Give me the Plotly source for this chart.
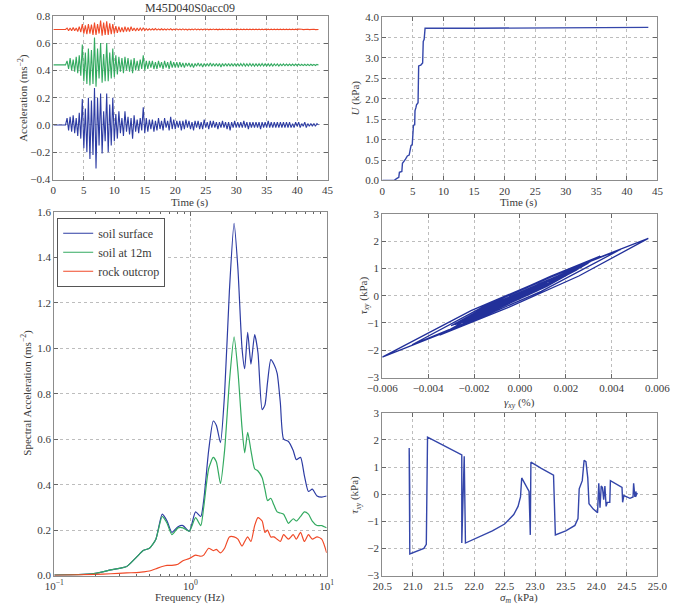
import numpy as np
import plotly.graph_objects as go

SERIF = "Liberation Serif"
TXT = "#3a3a3a"

# ---------------- data ----------------
title_text = "M45D040S0acc09"
dt_acc = 0.25
trace_names = ["soil surface", "soil at 12m", "rock outcrop"]
trace_offsets = [0.0, 0.44, 0.70]

acc_surface_early = [0, 0, 0, 0, 0, 0, 0, 0,
    0.0, 0.05, -0.04, 0.06, -0.05, 0.07, -0.06, 0.05, -0.08, 0.09, -0.10, 0.19,
    -0.17, 0.12, -0.20, 0.20, -0.25, 0.18, -0.22, 0.27, -0.32, 0.20, -0.15, 0.23,
    -0.21, 0.10, -0.12, 0.23, -0.20, 0.15, -0.15, 0.20, -0.12, 0.08, -0.10, 0.10,
    -0.06, 0.05, -0.08, 0.10, -0.05, 0.06, -0.07, 0.05, -0.10, 0.07, -0.05, 0.04,
    -0.06, 0.05, -0.04, 0.13, -0.06, 0.05, -0.05, 0.04]
acc_surface_late = [
    -0.03, 0.04, -0.05, 0.03, -0.04, 0.05, -0.03, 0.03, -0.04, 0.05,
    -0.02, 0.03, -0.04, 0.06, -0.03, 0.04, -0.03, 0.03, -0.02, 0.03,
    -0.04, 0.03, -0.03, 0.04, -0.02, 0.03, -0.03, 0.02, -0.04, 0.03,
    -0.02, 0.03, -0.03, 0.02, -0.03, 0.04, -0.02, 0.02, -0.03, 0.03,
    -0.02, 0.03, -0.02, 0.02, -0.03, 0.02, -0.02, 0.03, -0.02, 0.02,
    -0.03, 0.02, -0.04, 0.02, -0.02, 0.03, -0.02, 0.02, -0.02, 0.02,
    -0.02, 0.03, -0.02, 0.02, -0.03, 0.02, -0.02, 0.02, -0.02, 0.02,
    -0.02, 0.02, -0.03, 0.02, -0.02, 0.02, -0.02, 0.03, -0.02, 0.02,
    -0.02, 0.02, -0.02, 0.02, -0.02, 0.02, -0.02, 0.02, -0.02, 0.02,
    -0.02, 0.02, -0.02, 0.01, -0.02, 0.02, -0.01, 0.02, -0.02, 0.01,
    -0.01, 0.02, -0.02, 0.01, -0.01, 0.01, -0.01, 0.01, -0.01, 0.01, 0.0]

acc_12m_early = [0, 0, 0, 0, 0, 0, 0, 0,
    0.0, 0.03, -0.03, 0.05, -0.04, 0.04, -0.05, 0.06, -0.06, 0.07, -0.08, 0.15,
    -0.12, 0.09, -0.14, 0.12, -0.15, 0.11, -0.14, 0.20, -0.16, 0.12, -0.10, 0.16,
    -0.13, 0.08, -0.12, 0.16, -0.12, 0.09, -0.10, 0.12, -0.09, 0.07, -0.07, 0.06,
    -0.05, 0.05, -0.06, 0.06, -0.04, 0.05, -0.05, 0.04, -0.06, 0.05, -0.04, 0.03,
    -0.04, 0.04, -0.03, 0.07, -0.04, 0.03, -0.03, 0.03]
acc_12m_late = [
    -0.02, 0.03, -0.03, 0.02, -0.03, 0.03, -0.02, 0.02, -0.03, 0.03,
    -0.02, 0.02, -0.03, 0.03, -0.02, 0.02, -0.02, 0.02, -0.02, 0.02,
    -0.015, 0.015, -0.02, 0.015, -0.01, 0.015, -0.015, 0.01, -0.02, 0.01,
    -0.01, 0.015, -0.01, 0.01, -0.015, 0.01, -0.01, 0.01, -0.01, 0.015,
    -0.01, 0.01, -0.01, 0.01, -0.01, 0.01, -0.015, 0.01, -0.01, 0.01,
    -0.01, 0.01, -0.01, 0.01, -0.01, 0.01, -0.01, 0.01, -0.01, 0.01,
    -0.008, 0.01, -0.01, 0.008, -0.008, 0.01, -0.008, 0.008, -0.01, 0.008,
    -0.008, 0.008, -0.008, 0.01, -0.008, 0.008, -0.008, 0.008, -0.008, 0.008,
    -0.008, 0.008, -0.006, 0.008, -0.008, 0.006, -0.006, 0.008, -0.006, 0.006,
    -0.006, 0.006, -0.006, 0.006, -0.006, 0.006, -0.006, 0.006, -0.005, 0.005,
    -0.005, 0.005, -0.005, 0.005, -0.005, 0.005, -0.004, 0.004, -0.004, 0.004, 0.0]

acc_rock_early = [0, 0, 0, 0, 0, 0, 0, 0,
    0.0, 0.01, -0.01, 0.01, -0.01, 0.015, -0.01, 0.01, -0.015, 0.02, -0.02, 0.04,
    -0.03, 0.03, -0.035, 0.04, -0.03, 0.035, -0.04, 0.05, -0.04, 0.04, -0.03, 0.065,
    -0.045, 0.05, -0.04, 0.06, -0.04, 0.045, -0.035, 0.04, -0.03, 0.025, -0.025, 0.02,
    -0.02, 0.015, -0.02, 0.02, -0.015, 0.015, -0.015, 0.02, -0.01, 0.01, -0.012, 0.01,
    -0.01, 0.01, -0.008, 0.012, -0.008, 0.006, -0.006, 0.005]
acc_rock_late = [
    -0.005, 0.005, -0.004, 0.006, -0.005, 0.004, -0.004, 0.005, -0.004, 0.004,
    -0.004, 0.004, -0.003, 0.005, -0.004, 0.003, -0.003, 0.004, -0.003, 0.003,
    -0.003, 0.004, -0.003, 0.003, -0.004, 0.003, -0.003, 0.003, -0.003, 0.004,
    -0.003, 0.003, -0.003, 0.003, -0.003, 0.003, -0.002, 0.003, -0.003, 0.002,
    -0.002, 0.003, -0.002, 0.002, -0.003, 0.002, -0.002, 0.002, -0.002, 0.003,
    -0.002, 0.002, -0.002, 0.002, -0.002, 0.002, -0.002, 0.002, -0.002, 0.002,
    -0.002, 0.002, -0.002, 0.002, -0.002, 0.002, -0.002, 0.002, -0.002, 0.002,
    -0.002, 0.002, -0.002, 0.002, -0.002, 0.002, -0.002, 0.002, -0.002, 0.002,
    -0.002, 0.002, -0.002, 0.002, -0.002, 0.002, -0.002, 0.002, -0.002, 0.002,
    -0.002, 0.002, -0.002, 0.002, -0.002, 0.002, -0.001, 0.002, -0.001, 0.001,
    -0.001, 0.001, -0.001, 0.001, -0.001, 0.001, -0.001, 0.001, -0.001, 0.001, 0.0]

# excess pore pressure U (kPa) vs time (s)
u_time = [0, 1.6, 2.0, 2.4, 2.7, 2.8, 3.2, 3.3, 3.6, 3.8, 4.1, 4.4, 4.6, 4.7, 4.9,
          5.0, 5.1, 5.3, 5.35, 5.5, 5.6, 5.85, 5.95, 6.3, 6.6, 6.7, 6.85, 7.0, 15.0, 43.5]
u_kpa = [0.0, 0.0, 0.01, 0.05, 0.08, 0.2, 0.22, 0.42, 0.47, 0.52, 0.6, 0.62, 0.78, 0.85, 0.88,
         1.3, 1.35, 1.36, 1.7, 1.78, 1.85, 1.9, 2.8, 2.82, 2.87, 3.4, 3.45, 3.72, 3.72, 3.74]

# response spectra
freq_hz = [0.10, 0.15, 0.20, 0.26, 0.34, 0.40, 0.45, 0.50, 0.557, 0.62, 0.673, 0.73, 0.81,
           0.88, 0.98, 1.09, 1.19, 1.25, 1.36, 1.47, 1.55, 1.66, 1.78, 1.93, 2.09, 2.23,
           2.39, 2.50, 2.63, 2.78, 2.96, 3.13, 3.36, 3.52, 3.68, 3.89, 4.10, 4.33, 4.57,
           4.83, 5.24, 5.68, 5.99, 6.43, 6.86, 7.35, 7.84, 8.50, 9.20, 10.0]
sa_surface = [0.002, 0.004, 0.01, 0.025, 0.04, 0.08, 0.11, 0.12, 0.16, 0.27, 0.24, 0.19, 0.215,
              0.22, 0.195, 0.28, 0.26, 0.33, 0.55, 0.68, 0.66, 0.585, 0.80, 1.25, 1.55, 1.35,
              1.0, 0.91, 1.07, 0.93, 1.06, 0.98, 0.73, 0.75, 0.85, 0.95, 0.93, 0.89, 0.76,
              0.60, 0.59, 0.55, 0.51, 0.52, 0.44, 0.37, 0.38, 0.35, 0.345, 0.35]
sa_12m = [0.002, 0.004, 0.01, 0.025, 0.04, 0.08, 0.11, 0.12, 0.16, 0.26, 0.23, 0.18, 0.21,
          0.21, 0.195, 0.255, 0.22, 0.30, 0.47, 0.52, 0.50, 0.405, 0.55, 0.85, 1.05, 0.90,
          0.65, 0.54, 0.63, 0.55, 0.47, 0.46, 0.43, 0.38, 0.33, 0.34, 0.31, 0.28, 0.275,
          0.27, 0.23, 0.25, 0.24, 0.26, 0.28, 0.27, 0.24, 0.22, 0.22, 0.21]
sa_rock = [0.001, 0.003, 0.005, 0.008, 0.012, 0.013, 0.016, 0.02, 0.03, 0.04, 0.045, 0.045, 0.05,
           0.065, 0.075, 0.09, 0.085, 0.09, 0.12, 0.11, 0.115, 0.10, 0.12, 0.17, 0.17, 0.16,
           0.13, 0.15, 0.17, 0.15, 0.22, 0.255, 0.24, 0.19, 0.20, 0.17, 0.17, 0.16, 0.15,
           0.18, 0.16, 0.18, 0.16, 0.19, 0.15, 0.18, 0.16, 0.17, 0.16, 0.10]
freq_ticks = [0.1, 1, 10]
freq_ticktext = ["10<sup>−1</sup>", "10<sup>0</sup>", "10<sup>1</sup>"]
freq_minor = [0.2, 0.3, 0.4, 0.5, 0.6, 0.7, 0.8, 0.9, 2, 3, 4, 5, 6, 7, 8, 9]

# shear stress-strain loops
gamma_pct = [0.0, 0.0004, 0.0008, 0.0012, 0.00047, -0.00027, -0.0010, -0.00007, 0.00087, 0.0018,
             0.0007, -0.0004, -0.0015, -0.00017, 0.00117, 0.0025, 0.00067, -0.00117, -0.0030,
             -0.00083, 0.00133, 0.0035, 0.00077, -0.00197, -0.0047, -0.00167, 0.00137, 0.0044,
             0.00093, -0.00253, -0.0060, -0.00213, 0.00173, 0.0056, 0.00257, -0.00047, -0.0035,
             -0.00133, 0.00083, 0.0030, 0.00117, -0.00067, -0.0025, -0.0010, 0.0005, 0.0020,
             0.00083, -0.00033, -0.0015, -0.0006, 0.0003, 0.0012, 0.00053, -0.00013, -0.0008,
             -0.0004, 0.0, 0.0004,
             -0.0004, -0.0012, -0.0020, -0.0006, 0.0008, 0.0022, 0.00053, -0.00113, -0.0028,
             -0.00097, 0.00087, 0.0027, 0.0012, -0.0003, -0.0018, -0.0012, -0.0006, 0.0]
tau_loop = [0.0, 0.18, 0.32, 0.45, 0.14, -0.12, -0.35, 0.06, 0.40, 0.70,
            0.19, -0.22, -0.60, 0.0, 0.50, 0.95, 0.15, -0.51, -1.10,
            -0.11, 0.71, 1.45, 0.18, -0.86, -1.80, -0.44, 0.69, 1.70,
            0.16, -1.10, -2.25, -0.55, 0.84, 2.10, 0.72, -0.42, -1.45,
            -0.42, 0.43, 1.20, 0.34, -0.36, -1.00, -0.30, 0.28, 0.80,
            0.27, -0.16, -0.55, -0.14, 0.20, 0.50, 0.19, -0.07, -0.30,
            -0.12, 0.02, 0.15,
            -0.24, -0.56, -0.85, -0.19, 0.36, 0.85, 0.11, -0.50, -1.05,
            -0.23, 0.44, 1.05, 0.37, -0.19, -0.70, -0.43, -0.20, 0.0]

# stress path
sigma_m = [20.95, 20.94, 20.95, 20.94, 20.95, 21.18, 21.22, 21.24, 21.50, 21.80, 21.80, 21.84,
           21.86, 22.00, 22.30, 22.50, 22.65, 22.72, 22.76, 22.78, 22.85, 22.90, 22.92, 22.93,
           23.10, 23.30, 23.33, 23.50, 23.65, 23.70, 23.72, 23.77, 23.80, 23.83, 23.86, 23.88,
           23.95, 24.02, 24.04, 24.06, 24.08, 24.10, 24.12, 24.14, 24.16, 24.18, 24.22, 24.23,
           24.42, 24.43, 24.45, 24.55, 24.60, 24.61, 24.63, 24.65, 24.64, 24.67]
tau_path = [0.0, 1.7, -1.0, 1.6, -2.2, -2.0, -1.85, 2.1, 1.8, 1.45, -1.8, 1.4,
            -1.8, -1.65, -1.35, -1.1, -0.75, -0.45, -0.1, 0.6, 0.3, 0.1, -1.5, 1.18,
            0.95, 0.7, -1.5, -1.35, -1.15, -0.9, 0.2, 0.5, 1.25, 1.2, 0.6, -0.35,
            -0.55, -0.68, 0.4, -0.5, 0.3, 0.25, -0.2, 0.3, -0.45, -0.3, -0.3, 0.5,
            0.25, -0.3, -0.05, -0.15, -0.1, 0.4, -0.1, 0.1, -0.1, 0.05]

C_BLUE = "#2d3ca3"
C_GREEN = "#33aa60"
C_RED = "#f04a28"
C_DARK = "#22309a"

# ---------------- figure ----------------
W, H = 682, 610
def px_x(p): return p / W
def px_y(p): return 1 - p / H

fig = go.Figure()

acc_series = [
    (acc_surface_early + acc_surface_late, C_BLUE),
    (acc_12m_early + acc_12m_late, C_GREEN),
    (acc_rock_early + acc_rock_late, C_RED),
]
for (vals, col), off in zip(acc_series, trace_offsets):
    v = np.array(vals) + off
    t = np.arange(len(v)) * dt_acc
    fig.add_trace(go.Scatter(x=t, y=v, mode="lines", line=dict(color=col, width=1.1),
                             showlegend=False, xaxis="x", yaxis="y", hoverinfo="skip"))

fig.add_trace(go.Scatter(x=u_time, y=u_kpa, mode="lines", line=dict(color="#3446aa", width=1.4),
                         showlegend=False, xaxis="x2", yaxis="y2"))

for name, vals, col in zip(trace_names, [sa_surface, sa_12m, sa_rock], [C_BLUE, C_GREEN, C_RED]):
    fig.add_trace(go.Scatter(x=freq_hz, y=vals, mode="lines", name=name,
                             line=dict(color=col, width=1.2, shape="spline", smoothing=0.6),
                             xaxis="x3", yaxis="y3"))

fig.add_trace(go.Scatter(x=gamma_pct, y=tau_loop, mode="lines", line=dict(color=C_DARK, width=1.3),
                         showlegend=False, xaxis="x4", yaxis="y4"))
fig.add_trace(go.Scatter(x=sigma_m, y=tau_path, mode="lines", line=dict(color="#3446aa", width=1.4),
                         showlegend=False, xaxis="x5", yaxis="y5"))

def axis(domain, rng, dtick=None, fmt=None, anchor=None, typ="linear", **kw):
    d = dict(domain=domain, range=rng, anchor=anchor, type=typ,
             showline=True, linecolor="#8c8c8c", linewidth=1, mirror="allticks",
             ticks="inside", ticklen=4, tickcolor="#666", tickwidth=1,
             showgrid=True, gridcolor="#bdbdbd", griddash="dot", gridwidth=1,
             zeroline=False, tickfont=dict(family=SERIF, size=11, color=TXT))
    if dtick is not None:
        d["dtick"] = dtick
    if fmt is not None:
        d["tickformat"] = fmt
    d.update(kw)
    return d

LX = [px_x(40), px_x(326)]
RX = [px_x(383), px_x(670)]

fig.update_layout(
    width=W, height=H, margin=dict(l=0, r=0, t=0, b=0),
    paper_bgcolor="white", plot_bgcolor="white",
    font=dict(family=SERIF, size=11, color=TXT),
    xaxis=axis(LX, [0, 45], 5, "d", "y"),
    yaxis=axis([px_y(177), px_y(10)], [-0.4, 0.8], 0.2, ".1f", "x"),
    xaxis2=axis(RX, [0, 45], 5, "d", "y2"),
    yaxis2=axis([px_y(178), px_y(11)], [0, 4], 0.5, ".1f", "x2"),
    xaxis3=axis([px_x(41), px_x(325)], [-1, 1], None, None, "y3", typ="log",
                tickmode="array", tickvals=freq_ticks, ticktext=freq_ticktext,
                minor=dict(tickmode="array", tickvals=freq_minor, ticks="inside",
                           ticklen=2, tickcolor="#666", showgrid=False)),
    yaxis3=axis([px_y(581), px_y(210)], [0, 1.6], 0.2, ".1f", "x3"),
    xaxis4=axis(RX, [-0.006, 0.006], 0.002, ".3f", "y4"),
    yaxis4=axis([px_y(379), px_y(212)], [-3, 3], 1, "d", "x4"),
    xaxis5=axis(RX, [20.5, 25.0], 0.5, ".1f", "y5"),
    yaxis5=axis([px_y(581), px_y(415)], [-3, 3], 1, "d", "x5"),
    legend=dict(x=px_x(44), y=px_y(216), xanchor="left", yanchor="top",
                bordercolor="#555", borderwidth=1, bgcolor="white",
                font=dict(family=SERIF, size=12, color=TXT), itemwidth=30,
                tracegroupgap=0),
)

def ann(text, x, y, angle=0, size=11):
    fig.add_annotation(text=text, x=px_x(x), y=px_y(y), xref="paper", yref="paper",
                       showarrow=False, textangle=angle, xanchor="center", yanchor="middle",
                       font=dict(family=SERIF, size=size, color=TXT))

ann(title_text, 183, 2, size=12)
ann("Time (s)", 183, 200)
ann("Time (s)", 526, 200)
ann("Frequency (Hz)", 183, 603)
ann("<i>γ<sub>xy</sub></i> (%)", 526, 405)
ann("<i>σ<sub>m</sub></i> (kPa)", 526, 604)
ann("Acceleration (ms<sup>−2</sup>)", 8, 94, -90)
ann("<i>U</i> (kPa)", 355, 94, -90)
ann("Spectral Acceleration (ms<sup>−2</sup>)", 12, 395, -90)
ann("<i>τ<sub>xy</sub></i> (kPa)", 364, 295, -90)
ann("<i>τ<sub>xy</sub></i> (kPa)", 355, 498, -90)

fig.write_html("out.html")
